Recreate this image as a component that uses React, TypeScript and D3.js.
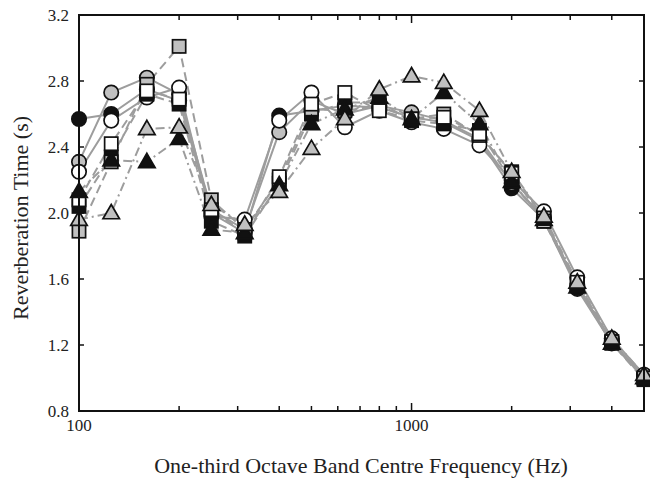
import React, { useEffect, useRef } from 'react';
import * as d3 from 'd3';

// one-third octave band centre frequencies (Hz)
const freqs = [100, 125, 160, 200, 250, 315, 400, 500, 630, 800, 1000, 1250, 1600, 2000, 2500, 3150, 4000, 5000];

// reverberation times (s), one list per measurement
const blackCircle = [2.57, 2.60, 2.75, 2.68, 2.00, 1.88, 2.59, 2.62, 2.65, 2.64, 2.58, 2.55, 2.44, 2.15, 1.96, 1.54, 1.21, 1.00];
const grayCircle = [2.31, 2.73, 2.82, 2.72, 2.02, 1.90, 2.49, 2.68, 2.60, 2.65, 2.61, 2.56, 2.45, 2.18, 1.97, 1.56, 1.22, 1.01];
const whiteCircle = [2.25, 2.56, 2.70, 2.76, 1.98, 1.96, 2.56, 2.73, 2.52, 2.62, 2.55, 2.51, 2.41, 2.20, 2.01, 1.61, 1.24, 1.02];
const blackSquare = [2.04, 2.34, 2.72, 2.66, 1.95, 1.86, 2.18, 2.60, 2.67, 2.67, 2.56, 2.54, 2.50, 2.19, 1.95, 1.56, 1.21, 0.99];
const graySquare = [1.89, 2.31, 2.78, 3.01, 2.08, 1.90, 2.20, 2.63, 2.62, 2.65, 2.57, 2.60, 2.47, 2.25, 1.97, 1.57, 1.22, 1.00];
const whiteSquare = [2.08, 2.42, 2.74, 2.69, 2.02, 1.88, 2.22, 2.66, 2.73, 2.62, 2.57, 2.58, 2.48, 2.24, 1.95, 1.58, 1.22, 1.00];
const blackTriangle = [2.13, 2.32, 2.31, 2.45, 1.90, 1.88, 2.17, 2.54, 2.63, 2.70, 2.57, 2.73, 2.54, 2.19, 1.96, 1.55, 1.21, 1.00];
const grayTriangle = [1.96, 2.00, 2.51, 2.52, 2.05, 1.93, 2.13, 2.39, 2.57, 2.75, 2.83, 2.79, 2.62, 2.25, 1.98, 1.58, 1.24, 1.02];

const yTicks = [0.8, 1.2, 1.6, 2.0, 2.4, 2.8, 3.2];
const xTickLabels = [100, 1000];
const xMinorTicks = [200, 300, 400, 500, 600, 700, 800, 900, 1000, 2000, 3000, 4000];

type Shape = 'circle' | 'square' | 'triangle';
const series: { values: number[]; shape: Shape; fill: string; dash: string | null }[] = [
  { values: blackCircle, shape: 'circle', fill: '#111', dash: null },
  { values: grayCircle, shape: 'circle', fill: '#c0c0c0', dash: null },
  { values: whiteCircle, shape: 'circle', fill: '#fff', dash: null },
  { values: blackSquare, shape: 'square', fill: '#111', dash: '9,5' },
  { values: graySquare, shape: 'square', fill: '#c0c0c0', dash: '9,5' },
  { values: whiteSquare, shape: 'square', fill: '#fff', dash: '9,5' },
  { values: blackTriangle, shape: 'triangle', fill: '#111', dash: '9,4,2,4' },
  { values: grayTriangle, shape: 'triangle', fill: '#c0c0c0', dash: '9,4,2,4' },
];

const App: React.FC = () => {
  const svgRef = useRef<SVGSVGElement>(null);

  useEffect(() => {
    if (!svgRef.current) return;
    const width = 650;
    const height = 481;
    const left = 79, right = 644, top = 15, bottom = 411;

    const svg = d3.select(svgRef.current);
    svg.selectAll('*').remove();

    const x = d3.scaleLog().domain([100, 5000]).range([left, right]);
    const y = d3.scaleLinear().domain([0.8, 3.2]).range([bottom, top]);

    const font = '"Liberation Serif", "Times New Roman", serif';

    // series lines first, markers on top
    const line = d3.line<number>()
      .x((_, i) => x(freqs[i]))
      .y(d => y(d));

    series.forEach(s => {
      svg.append('path')
        .attr('d', line(s.values) as string)
        .attr('fill', 'none')
        .attr('stroke', '#9d9d9d')
        .attr('stroke-width', 2)
        .attr('stroke-dasharray', s.dash);
    });

    series.forEach(s => {
      const g = svg.append('g')
        .attr('fill', s.fill)
        .attr('stroke', '#111')
        .attr('stroke-width', 1.7);
      s.values.forEach((v, i) => {
        const cx = x(freqs[i]);
        const cy = y(v);
        if (s.shape === 'circle') {
          g.append('circle').attr('cx', cx).attr('cy', cy).attr('r', 7.2);
        } else if (s.shape === 'square') {
          g.append('rect').attr('x', cx - 6.6).attr('y', cy - 6.6).attr('width', 13.2).attr('height', 13.2);
        } else {
          const sym = d3.symbol().type(d3.symbolTriangle).size(118);
          g.append('path').attr('d', sym() as string).attr('transform', `translate(${cx},${cy + 1})`);
        }
      });
    });

    // frame
    svg.append('rect')
      .attr('x', left).attr('y', top)
      .attr('width', right - left).attr('height', bottom - top)
      .attr('fill', 'none').attr('stroke', '#111').attr('stroke-width', 2);

    // ticks inward on all sides
    const tickLen = 5;
    xMinorTicks.forEach(t => {
      const len = t === 1000 ? tickLen + 3 : tickLen;
      svg.append('line').attr('x1', x(t)).attr('x2', x(t)).attr('y1', bottom).attr('y2', bottom - len)
        .attr('stroke', '#111').attr('stroke-width', 1.5);
      svg.append('line').attr('x1', x(t)).attr('x2', x(t)).attr('y1', top).attr('y2', top + len)
        .attr('stroke', '#111').attr('stroke-width', 1.5);
    });
    yTicks.forEach(t => {
      svg.append('line').attr('x1', left).attr('x2', left + tickLen).attr('y1', y(t)).attr('y2', y(t))
        .attr('stroke', '#111').attr('stroke-width', 1.5);
      svg.append('line').attr('x1', right).attr('x2', right - tickLen).attr('y1', y(t)).attr('y2', y(t))
        .attr('stroke', '#111').attr('stroke-width', 1.5);
    });

    // tick labels
    yTicks.forEach(t => {
      svg.append('text')
        .attr('x', left - 10).attr('y', y(t)).attr('dy', '0.35em')
        .attr('text-anchor', 'end')
        .attr('font-family', font).attr('font-size', 17).attr('fill', '#222')
        .text(d3.format('.1f')(t));
    });
    xTickLabels.forEach(t => {
      svg.append('text')
        .attr('x', x(t)).attr('y', bottom + 14).attr('dy', '0.35em')
        .attr('text-anchor', 'middle')
        .attr('font-family', font).attr('font-size', 17).attr('fill', '#222')
        .text(String(t));
    });

    // axis titles
    svg.append('text')
      .attr('x', (left + right) / 2 - 0.5).attr('y', 465).attr('dy', '0.35em')
      .attr('text-anchor', 'middle')
      .attr('font-family', font).attr('font-size', 22).attr('fill', '#222')
      .text('One-third Octave Band Centre Frequency (Hz)');
    svg.append('text')
      .attr('transform', `translate(20,${(top + bottom) / 2 + 5}) rotate(-90)`)
      .attr('dy', '0.35em')
      .attr('text-anchor', 'middle')
      .attr('font-family', font).attr('font-size', 22).attr('fill', '#222')
      .text('Reverberation Time (s)');

    svg.attr('width', width).attr('height', height);
  }, []);

  return (
    <svg
      ref={svgRef}
      width={650}
      height={481}
      style={{ position: 'absolute', left: 0, top: 0, background: '#fff' }}
    />
  );
};

export default App;
